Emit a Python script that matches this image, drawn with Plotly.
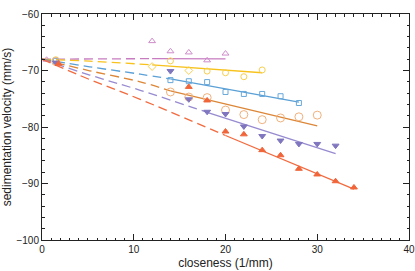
import plotly.graph_objects as go

# ---- data ----
pink_x = [0.5, 12, 14, 16, 18, 20]
pink_y = [-68.1, -64.8, -66.6, -66.8, -68.2, -67.0]
pink_fit_x = [12, 20]
pink_fit_y = [-67.9, -67.95]
pink_ext_x = [0, 12]
pink_ext_y = [-68.0, -67.9]

yel_x = [1.5, 12, 14, 16, 18, 20, 22, 24]
yel_y = [-68.1, -69.3, -68.3, -70.0, -70.1, -70.4, -71.1, -69.9]
yel_sym = ["circle-open", "diamond-open", "circle-open", "diamond-open", "circle-open",
           "circle-open", "circle-open", "circle-open"]
yel_fit_x = [12, 24]
yel_fit_y = [-69.0, -70.4]
yel_ext_x = [0, 5.2, 12]
yel_ext_y = [-68.0, -68.35, -69.0]

blu_x = [1.5, 14, 16, 18, 20, 22, 24, 26, 28]
blu_y = [-68.3, -71.7, -71.9, -72.05, -73.8, -74.15, -74.15, -74.55, -75.75]
blu_fit_x = [14, 28]
blu_fit_y = [-71.5, -75.6]
blu_ext_x = [0, 5.2, 10.7, 14]
blu_ext_y = [-68.0, -69.35, -70.65, -71.5]

org_x = [1.5, 14, 16, 18, 20, 22, 24, 26, 28, 30]
org_y = [-68.4, -73.8, -74.7, -74.8, -77.0, -77.8, -78.7, -78.4, -78.2, -77.9]
org_fit_x = [14, 30]
org_fit_y = [-73.6, -79.8]
org_ext_x = [0, 5.2, 10.7, 14]
org_ext_y = [-68.0, -70.05, -72.0, -73.6]

pur_x = [1.5, 14, 16, 18, 20, 22, 24, 26, 28, 30, 32]
pur_y = [-68.6, -70.1, -75.1, -77.3, -77.7, -79.9, -81.6, -82.4, -83.0, -83.0, -83.3]
pur_fit_x = [18, 32]
pur_fit_y = [-77.4, -84.7]
pur_ext_x = [0, 5.2, 10.7, 18]
pur_ext_y = [-68.0, -70.8, -73.5, -77.4]

red_x = [1.8, 16, 18, 20, 22, 24, 26, 28, 30, 32, 34]
red_y = [-68.8, -72.9, -75.3, -80.8, -81.3, -84.1, -85.0, -87.4, -88.4, -89.6, -90.7]
red_fit_x = [20, 34]
red_fit_y = [-81.5, -91.0]
red_ext_x = [0, 5.2, 10.7, 20]
red_ext_y = [-68.0, -71.6, -75.1, -81.5]

x_ticks = [0, 10, 20, 30, 40]
y_ticks = [-100, -90, -80, -70, -60]

series = [
    dict(x=pink_x, y=pink_y, sym="triangle-up-open", mcol="#cf8ccb", lcol="#c77cc0",
         fx=pink_fit_x, fy=pink_fit_y, ex=pink_ext_x, ey=pink_ext_y, size=6),
    dict(x=yel_x, y=yel_y, sym=yel_sym, mcol="#f7cf4f", lcol="#f8c21c",
         fx=yel_fit_x, fy=yel_fit_y, ex=yel_ext_x, ey=yel_ext_y, size=6),
    dict(x=blu_x, y=blu_y, sym="square-open", mcol="#68a8da", lcol="#5aa0d6",
         fx=blu_fit_x, fy=blu_fit_y, ex=blu_ext_x, ey=blu_ext_y, size=5),
    dict(x=org_x, y=org_y, sym="circle-open", mcol="#f0b17c", lcol="#dc8636",
         fx=org_fit_x, fy=org_fit_y, ex=org_ext_x, ey=org_ext_y, size=8),
    dict(x=pur_x, y=pur_y, sym="triangle-down", mcol="#7f76bf", lcol="#978ad0",
         fx=pur_fit_x, fy=pur_fit_y, ex=pur_ext_x, ey=pur_ext_y, size=6),
    dict(x=red_x, y=red_y, sym="triangle-up", mcol="#f0653a", lcol="#f26a3e",
         fx=red_fit_x, fy=red_fit_y, ex=red_ext_x, ey=red_ext_y, size=6),
]

fig = go.Figure()
for s in series:
    fig.add_trace(go.Scatter(x=s["ex"], y=s["ey"], mode="lines",
                             line=dict(color=s["lcol"], width=1.3, dash="9px,5px", shape="spline"),
                             showlegend=False, hoverinfo="skip"))
    fig.add_trace(go.Scatter(x=s["fx"], y=s["fy"], mode="lines",
                             line=dict(color=s["lcol"], width=1.3),
                             showlegend=False))
    fig.add_trace(go.Scatter(x=s["x"], y=s["y"], mode="markers",
                             marker=dict(symbol=s["sym"], size=s["size"], color=s["mcol"],
                                         line=dict(color=s["mcol"], width=1)),
                             showlegend=False))

font_family = "Liberation Sans, Arial, sans-serif"
axis_common = dict(
    showline=True, linecolor="#222", linewidth=1, mirror="ticks",
    ticks="inside", ticklen=6, tickcolor="#222", tickwidth=1,
    showgrid=False, zeroline=False, automargin=False,
    tickfont=dict(family=font_family, size=10, color="#222"),
)
fig.update_xaxes(range=[0, 40], tickvals=x_ticks,
                 minor=dict(dtick=1, ticks="inside", ticklen=2.5, tickcolor="#222"),
                 title=dict(text="closeness (1/mm)", standoff=4,
                            font=dict(family=font_family, size=12, color="#222")),
                 **axis_common)
fig.update_yaxes(range=[-100, -60], tickvals=y_ticks,
                 minor=dict(dtick=2, ticks="inside", ticklen=2.5, tickcolor="#222"),
                 title=dict(text="sedimentation velocity (mm/s)", standoff=6,
                            font=dict(family=font_family, size=12, color="#222")),
                 **axis_common)
fig.update_layout(width=415, height=271, margin=dict(l=42, r=6, t=14, b=31),
                  plot_bgcolor="white", paper_bgcolor="white")
fig.write_html("out.html", config={"displayModeBar": False},
               post_script="document.body.style.margin='0';document.body.style.overflow='hidden';")
